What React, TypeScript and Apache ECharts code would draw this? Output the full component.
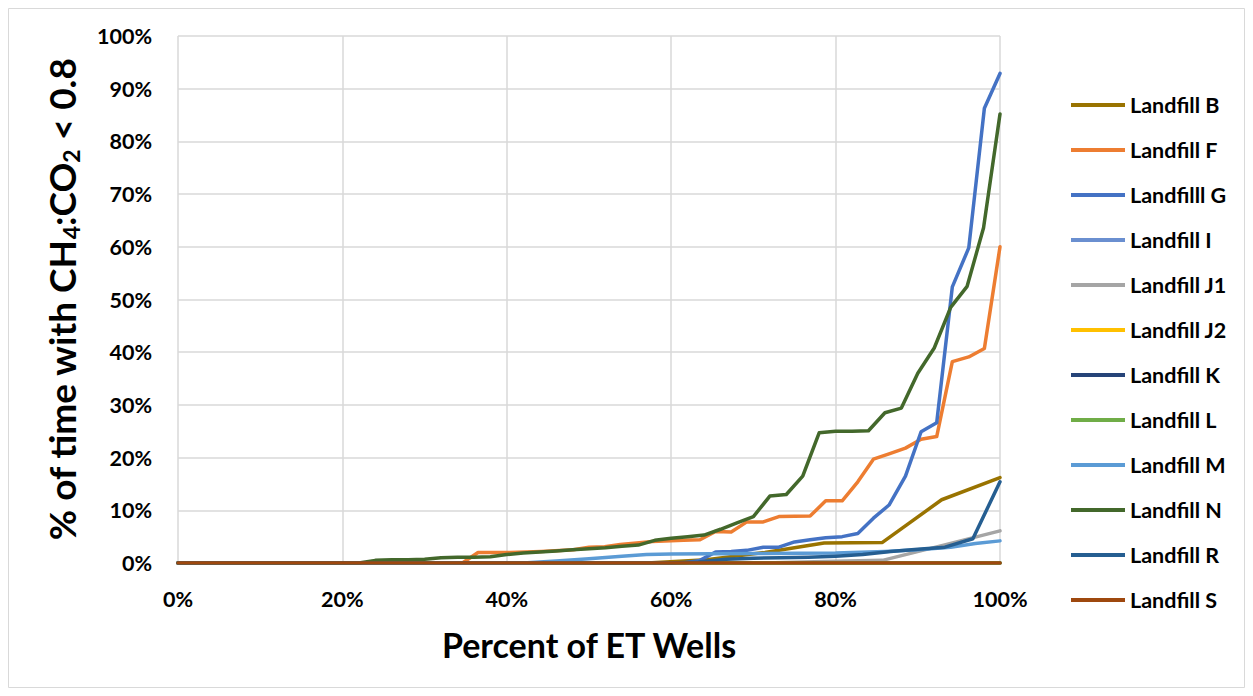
import React, { useEffect, useRef } from "react";
import * as echarts from "echarts";

const FONT = "Lato";

const seriesNames = [
  "Landfill B",
  "Landfill F",
  "Landfilll G",
  "Landfill I",
  "Landfill J1",
  "Landfill J2",
  "Landfill K",
  "Landfill L",
  "Landfill M",
  "Landfill N",
  "Landfill R",
  "Landfill S",
];

const seriesColors = [
  "#997300",
  "#ED7D31",
  "#4472C4",
  "#6A8FD0",
  "#A5A5A5",
  "#FFC000",
  "#264478",
  "#70AD47",
  "#5B9BD5",
  "#43682B",
  "#255E91",
  "#9E480E",
];

// [percent of wells, % of time]
const landfillB: number[][] = [
  [0, 0], [57.1, 0], [64.3, 0.6], [71.4, 2.0], [78.6, 3.8], [85.7, 3.9], [92.9, 12.0], [100, 16.2],
];
const landfillF: number[][] = [
  [0, 0], [34.6, 0], [36.5, 2.0], [40.4, 2.0], [44.2, 2.2], [48.1, 2.5], [50, 3.0], [51.9, 3.1],
  [53.8, 3.5], [55.8, 3.8], [57.7, 4.1], [61.5, 4.3], [63.5, 4.4], [65.4, 6.0], [67.3, 5.9],
  [69.2, 7.8], [71.2, 7.8], [73.1, 8.8], [76.9, 8.9], [78.8, 11.8], [80.8, 11.8], [82.7, 15.4],
  [84.6, 19.7], [86.5, 20.7], [88.5, 21.8], [90.4, 23.5], [92.3, 24.0], [94.2, 38.2], [96.2, 39.1],
  [98.1, 40.7], [100, 60.0],
];
const landfillG: number[][] = [
  [0, 0], [61.5, 0], [63.5, 0.5], [65.4, 2.1], [67.3, 2.2], [69.2, 2.4], [71.2, 3.0], [73.1, 3.0],
  [75, 4.0], [76.9, 4.4], [78.8, 4.8], [80.8, 5.0], [82.7, 5.6], [84.6, 8.5], [86.5, 11.0],
  [88.5, 16.5], [90.4, 24.9], [92.3, 26.6], [94.2, 52.4], [96.2, 59.8], [98.1, 86.3], [100, 92.9],
];
const landfillI: number[][] = [[0, 0], [100, 0]];
const landfillJ1: number[][] = [[0, 0], [71.4, 0], [78.6, 0.3], [85.7, 0.5], [92.9, 3.3], [100, 6.1]];
const landfillJ2: number[][] = [[0, 0], [100, 0]];
const landfillK: number[][] = [[0, 0], [100, 0]];
const landfillL: number[][] = [[0, 0], [100, 0]];
const landfillM: number[][] = [
  [0, 0], [42, 0], [46, 0.4], [50, 0.8], [54, 1.3], [57, 1.6], [60, 1.7], [70, 1.8], [80, 1.9],
  [86, 2.2], [90, 2.5], [94, 3.0], [97, 3.7], [100, 4.2],
];
const landfillN: number[][] = [
  [0, 0], [22, 0], [24, 0.5], [26, 0.6], [28, 0.6], [30, 0.7], [32, 1.0], [34, 1.1], [36, 1.1],
  [38, 1.2], [40, 1.6], [42, 1.9], [44, 2.1], [46, 2.3], [48, 2.5], [50, 2.7], [52, 2.9], [54, 3.2],
  [56, 3.4], [58, 4.3], [60, 4.7], [62, 5.0], [64, 5.3], [66, 6.4], [68, 7.6], [70, 8.8], [72, 12.7],
  [74, 13.0], [76, 16.5], [78, 24.7], [80, 25.0], [82, 25.0], [84, 25.1], [86, 28.5], [88, 29.4],
  [90, 36.0], [92, 40.8], [94, 48.5], [96, 52.5], [98, 63.6], [100, 85.2],
];
const landfillR: number[][] = [
  [0, 0], [60, 0], [63.3, 0.2], [66.7, 0.7], [70, 0.9], [73.3, 1.0], [76.7, 1.1], [80, 1.3],
  [83.3, 1.6], [86.7, 2.2], [90, 2.6], [93.3, 3.0], [96.7, 4.6], [100, 15.4],
];
const landfillS: number[][] = [[0, 0], [100, 0]];

const seriesData = [
  landfillB, landfillF, landfillG, landfillI, landfillJ1, landfillJ2,
  landfillK, landfillL, landfillM, landfillN, landfillR, landfillS,
];

const xTicks = { min: 0, max: 100, interval: 20 };
const yTicks = { min: 0, max: 100, interval: 10 };

export default function App() {
  const ref = useRef<HTMLDivElement>(null);
  useEffect(() => {
    if (!ref.current) return;
    const chart = echarts.init(ref.current, undefined, { renderer: "svg" });
    const option: any = {
      animation: false,
      backgroundColor: "#fff",
      textStyle: { fontFamily: FONT },
      grid: { left: 178, right: 253, top: 36, bottom: 133, containLabel: false },
      legend: {
        orient: "vertical",
        left: 1066,
        top: 89,
        itemWidth: 54,
        itemHeight: 22,
        itemGap: 23,
        icon: "path://M0,0 L54,0 L54,4 L0,4 Z",
        data: seriesNames,
        textStyle: {
          fontFamily: FONT,
          fontSize: 21.5,
          fontWeight: "bold",
          color: "#000",
          lineHeight: 22,
          padding: [0, 0, 0, 0],
        },
      },
      xAxis: {
        type: "value",
        min: xTicks.min,
        max: xTicks.max,
        interval: xTicks.interval,
        name: "Percent of ET Wells",
        nameLocation: "middle",
        nameGap: 64,
        nameTextStyle: { fontFamily: FONT, fontSize: 34, fontWeight: "bold", color: "#000" },
        axisLine: { show: false },
        axisTick: { show: false },
        axisLabel: {
          formatter: "{value}%",
          margin: 25,
          fontFamily: FONT,
          fontSize: 21.5,
          fontWeight: "bold",
          color: "#000",
        },
        splitLine: { show: true, lineStyle: { color: "#D9D9D9", width: 1.5 } },
      },
      yAxis: {
        type: "value",
        min: yTicks.min,
        max: yTicks.max,
        interval: yTicks.interval,
        name: "% of time with CH{s|4}:CO{s|2} < 0.8",
        nameLocation: "middle",
        nameGap: 96,
        nameTextStyle: {
          fontFamily: FONT,
          fontSize: 37,
          fontWeight: "bold",
          color: "#000",
          lineHeight: 42,
          rich: {
            s: {
              fontFamily: FONT,
              fontSize: 23,
              fontWeight: "bold",
              color: "#000",
              lineHeight: 26,
              verticalAlign: "bottom",
            },
          },
        },
        axisLine: { show: false },
        axisTick: { show: false },
        axisLabel: {
          formatter: "{value}%",
          margin: 26,
          fontFamily: FONT,
          fontSize: 21.5,
          fontWeight: "bold",
          color: "#000",
        },
        splitLine: { show: true, lineStyle: { color: "#D9D9D9", width: 1.5 } },
      },
      graphic: [
        {
          type: "rect",
          shape: { x: 8.5, y: 8.5, width: 1236, height: 679 },
          style: { fill: "none", stroke: "#D9D9D9", lineWidth: 1 },
          silent: true,
          z: -1,
        },
      ],
      series: seriesNames.map((name, i) => ({
        name,
        type: "line",
        data: seriesData[i],
        symbol: "none",
        showSymbol: false,
        color: seriesColors[i],
        lineStyle: { width: 3.5, color: seriesColors[i], cap: "round", join: "round" },
        z: 2 + i,
      })),
    };
    chart.setOption(option);
    return () => chart.dispose();
  }, []);
  return (
    <div
      ref={ref}
      style={{ position: "fixed", left: 0, top: 0, width: 1253, height: 696, background: "#fff" }}
    />
  );
}
